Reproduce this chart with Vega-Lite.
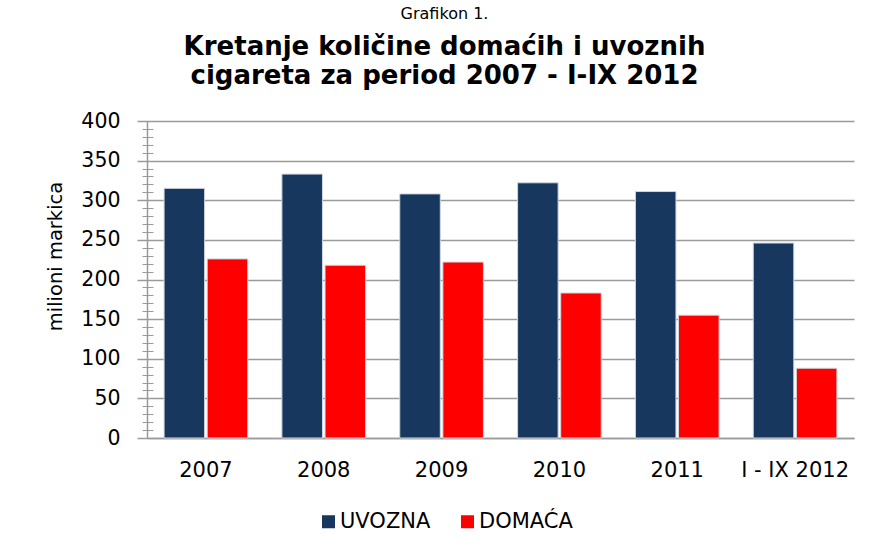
{
  "$schema": "https://vega.github.io/schema/vega-lite/v6.json",
  "width": 707,
  "height": 317,
  "autosize": "none",
  "padding": {"left": 147, "top": 121, "right": 20, "bottom": 116},
  "background": "white",
  "config": {
    "view": {"stroke": null},
    "font": "DejaVu Sans"
  },
  "title": {
    "text": "Grafikon 1.",
    "subtitle": ["Kretanje količine domaćih i uvoznih", "cigareta za period 2007 - I-IX 2012"],
    "anchor": "middle",
    "frame": "group",
    "dx": -56,
    "offset": 22,
    "font": "DejaVu Sans",
    "fontSize": 16,
    "fontWeight": "normal",
    "color": "#000000",
    "subtitleFont": "DejaVu Sans",
    "subtitleFontSize": 26,
    "subtitleFontWeight": "bold",
    "subtitleColor": "#000000",
    "subtitleLineHeight": 29,
    "subtitlePadding": 12
  },
  "data": {
    "values": [
      {"period": "2007", "type": "UVOZNA", "value": 315},
      {"period": "2007", "type": "DOMAĆA", "value": 226},
      {"period": "2008", "type": "UVOZNA", "value": 333},
      {"period": "2008", "type": "DOMAĆA", "value": 218},
      {"period": "2009", "type": "UVOZNA", "value": 308},
      {"period": "2009", "type": "DOMAĆA", "value": 222},
      {"period": "2010", "type": "UVOZNA", "value": 322},
      {"period": "2010", "type": "DOMAĆA", "value": 183},
      {"period": "2011", "type": "UVOZNA", "value": 311},
      {"period": "2011", "type": "DOMAĆA", "value": 155},
      {"period": "I - IX 2012", "type": "UVOZNA", "value": 246},
      {"period": "I - IX 2012", "type": "DOMAĆA", "value": 88}
    ]
  },
  "encoding": {
    "x": {
      "field": "period",
      "type": "nominal",
      "sort": null,
      "scale": {"paddingInner": 0.29, "paddingOuter": 0.145},
      "axis": {
        "title": null,
        "labelAngle": 0,
        "labelFontSize": 21,
        "labelColor": "#000000",
        "labelPadding": 21,
        "ticks": false,
        "domainColor": "#9a9a9a",
        "domainWidth": 1.5,
        "grid": false
      }
    },
    "xOffset": {
      "field": "type",
      "type": "nominal",
      "sort": ["UVOZNA", "DOMAĆA"],
      "scale": {"paddingInner": 0.06, "paddingOuter": 0}
    },
    "y": {
      "field": "value",
      "type": "quantitative",
      "scale": {"domain": [0, 400], "nice": false}
    }
  },
  "layer": [
    {
      "mark": {"type": "bar", "stroke": "#d0d6de", "strokeWidth": 1},
      "encoding": {
        "y": {
          "field": "value",
          "type": "quantitative",
          "scale": {"domain": [0, 400], "nice": false},
          "axis": {
            "orient": "left",
            "title": "milioni markica",
            "titleFontSize": 19.5,
            "titleFontWeight": "normal",
            "titleColor": "#000000",
            "titleX": -92,
            "titleY": 135,
            "titleAngle": -90,
            "titleBaseline": "middle",
            "titleAlign": "center",
            "values": [0, 50, 100, 150, 200, 250, 300, 350, 400],
            "labelFontSize": 20.5,
            "labelColor": "#000000",
            "labelPadding": 17,
            "tickSize": 10,
            "tickColor": "#9a9a9a",
            "tickWidth": 1.5,
            "domainColor": "#9a9a9a",
            "domainWidth": 1.5,
            "grid": true,
            "gridColor": "#9a9a9a",
            "gridWidth": 1.5
          }
        },
        "color": {
          "field": "type",
          "type": "nominal",
          "sort": ["UVOZNA", "DOMAĆA"],
          "scale": {"domain": ["UVOZNA", "DOMAĆA"], "range": ["#17375E", "#FF0000"]},
          "legend": {
            "title": null,
            "orient": "none",
            "direction": "horizontal",
            "legendX": 171,
            "legendY": 390,
            "symbolType": "square",
            "symbolSize": 169,
            "symbolStrokeWidth": 0,
            "labelFontSize": 21,
            "labelColor": "#000000",
            "labelOffset": 1,
            "columnPadding": 26
          }
        }
      }
    },
    {
      "mark": {"type": "bar", "opacity": 0},
      "encoding": {
        "y": {
          "field": "value",
          "type": "quantitative",
          "scale": {"domain": [0, 400], "nice": false},
          "axis": {
            "orient": "left",
            "offset": -6,
            "title": null,
            "labels": false,
            "domain": false,
            "grid": false,
            "values": [0,10,20,30,40,50,60,70,80,90,100,110,120,130,140,150,160,170,180,190,200,210,220,230,240,250,260,270,280,290,300,310,320,330,340,350,360,370,380,390,400],
            "tickSize": 11,
            "tickColor": "#9a9a9a",
            "tickWidth": 1
          }
        }
      }
    }
  ],
  "resolve": {"axis": {"y": "independent"}}
}
